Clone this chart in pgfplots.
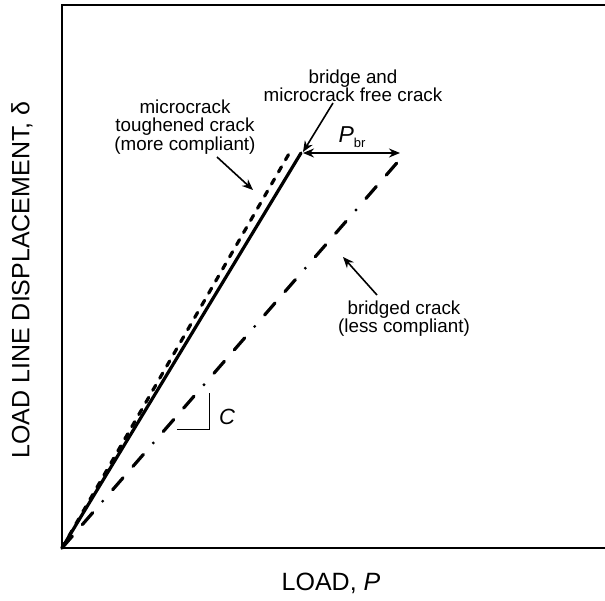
\documentclass[border=0pt]{standalone}
\usepackage{fontspec}
\setmainfont{Liberation Sans}
\usepackage{pgfplots}
\pgfplotsset{compat=1.18}
\usetikzlibrary{arrows.meta}
\begin{document}
\begin{tikzpicture}
\begin{axis}[
  scale only axis, width=271pt, height=271.5pt,
  xmin=62, xmax=604, ymin=0, ymax=543,
  hide axis, clip=false,
]
% frame
\draw[line width=0.8pt] (axis cs:606,543) -- (axis cs:62,543) -- (axis cs:62,0) -- (axis cs:606,0);
% curves
\addplot[line width=1.6pt, line cap=round, dash pattern=on 2.9pt off 4.1pt] coordinates {(62,0) (290,396)};
\addplot[line width=1.6pt, line cap=round] coordinates {(62,0) (301,395)};
\addplot[line width=1.6pt, line cap=round, dash pattern=on 7.9pt off 7.6pt on 7.9pt off 7.6pt on 0pt off 7.6pt] coordinates {(62,0) (402,391)};
% annotations
\draw[line width=0.8pt, {Stealth[length=5.5pt,width=4.5pt]}-{Stealth[length=5.5pt,width=4.5pt]}] (axis cs:303,395) -- (axis cs:400,395);
\node[font=\fontsize{11.5}{12}\selectfont] at (axis cs:352,411) {\textit{P}\raisebox{-0.45ex}{\fontsize{6.5}{7}\selectfont br}};
\draw[line width=0.8pt, -{Stealth[length=5.5pt,width=4.5pt]}] (axis cs:333,445) -- (axis cs:303,396);
\draw[line width=0.8pt, -{Stealth[length=5.5pt,width=4.5pt]}] (axis cs:217,391) -- (axis cs:253,358);
\draw[line width=0.8pt, -{Stealth[length=5.5pt,width=4.5pt]}] (axis cs:377,253) -- (axis cs:343,291);
\node[align=center, inner sep=0pt, font=\fontsize{9.4}{9.2}\selectfont] at (axis cs:353,462) {bridge and\\microcrack free crack};
\node[align=center, inner sep=0pt, font=\fontsize{9.4}{9.2}\selectfont] at (axis cs:185,421) {microcrack\\toughened crack\\(more compliant)};
\node[align=center, inner sep=0pt, font=\fontsize{9.4}{9.2}\selectfont] at (axis cs:404,229.5) {bridged crack\\(less compliant)};
\draw[line width=0.5pt] (axis cs:177,119) -- (axis cs:210,119) -- (axis cs:210,155);
\node[font=\fontsize{11}{12}\selectfont\itshape] at (axis cs:227,131) {C};
% axis labels
\node[font=\fontsize{12.5}{14}\selectfont] at (axis cs:331,-35) {LOAD, \textit{P}};
\node[rotate=90, font=\fontsize{12.5}{14}\selectfont] at (axis cs:22,268) {LOAD LINE DISPLACEMENT, δ};
\coordinate (bbA) at (axis cs:0,-52);
\coordinate (bbB) at (axis cs:605,548);
\end{axis}
\pgfresetboundingbox
\path[use as bounding box] (bbA) rectangle (bbB);
\end{tikzpicture}
\end{document}
